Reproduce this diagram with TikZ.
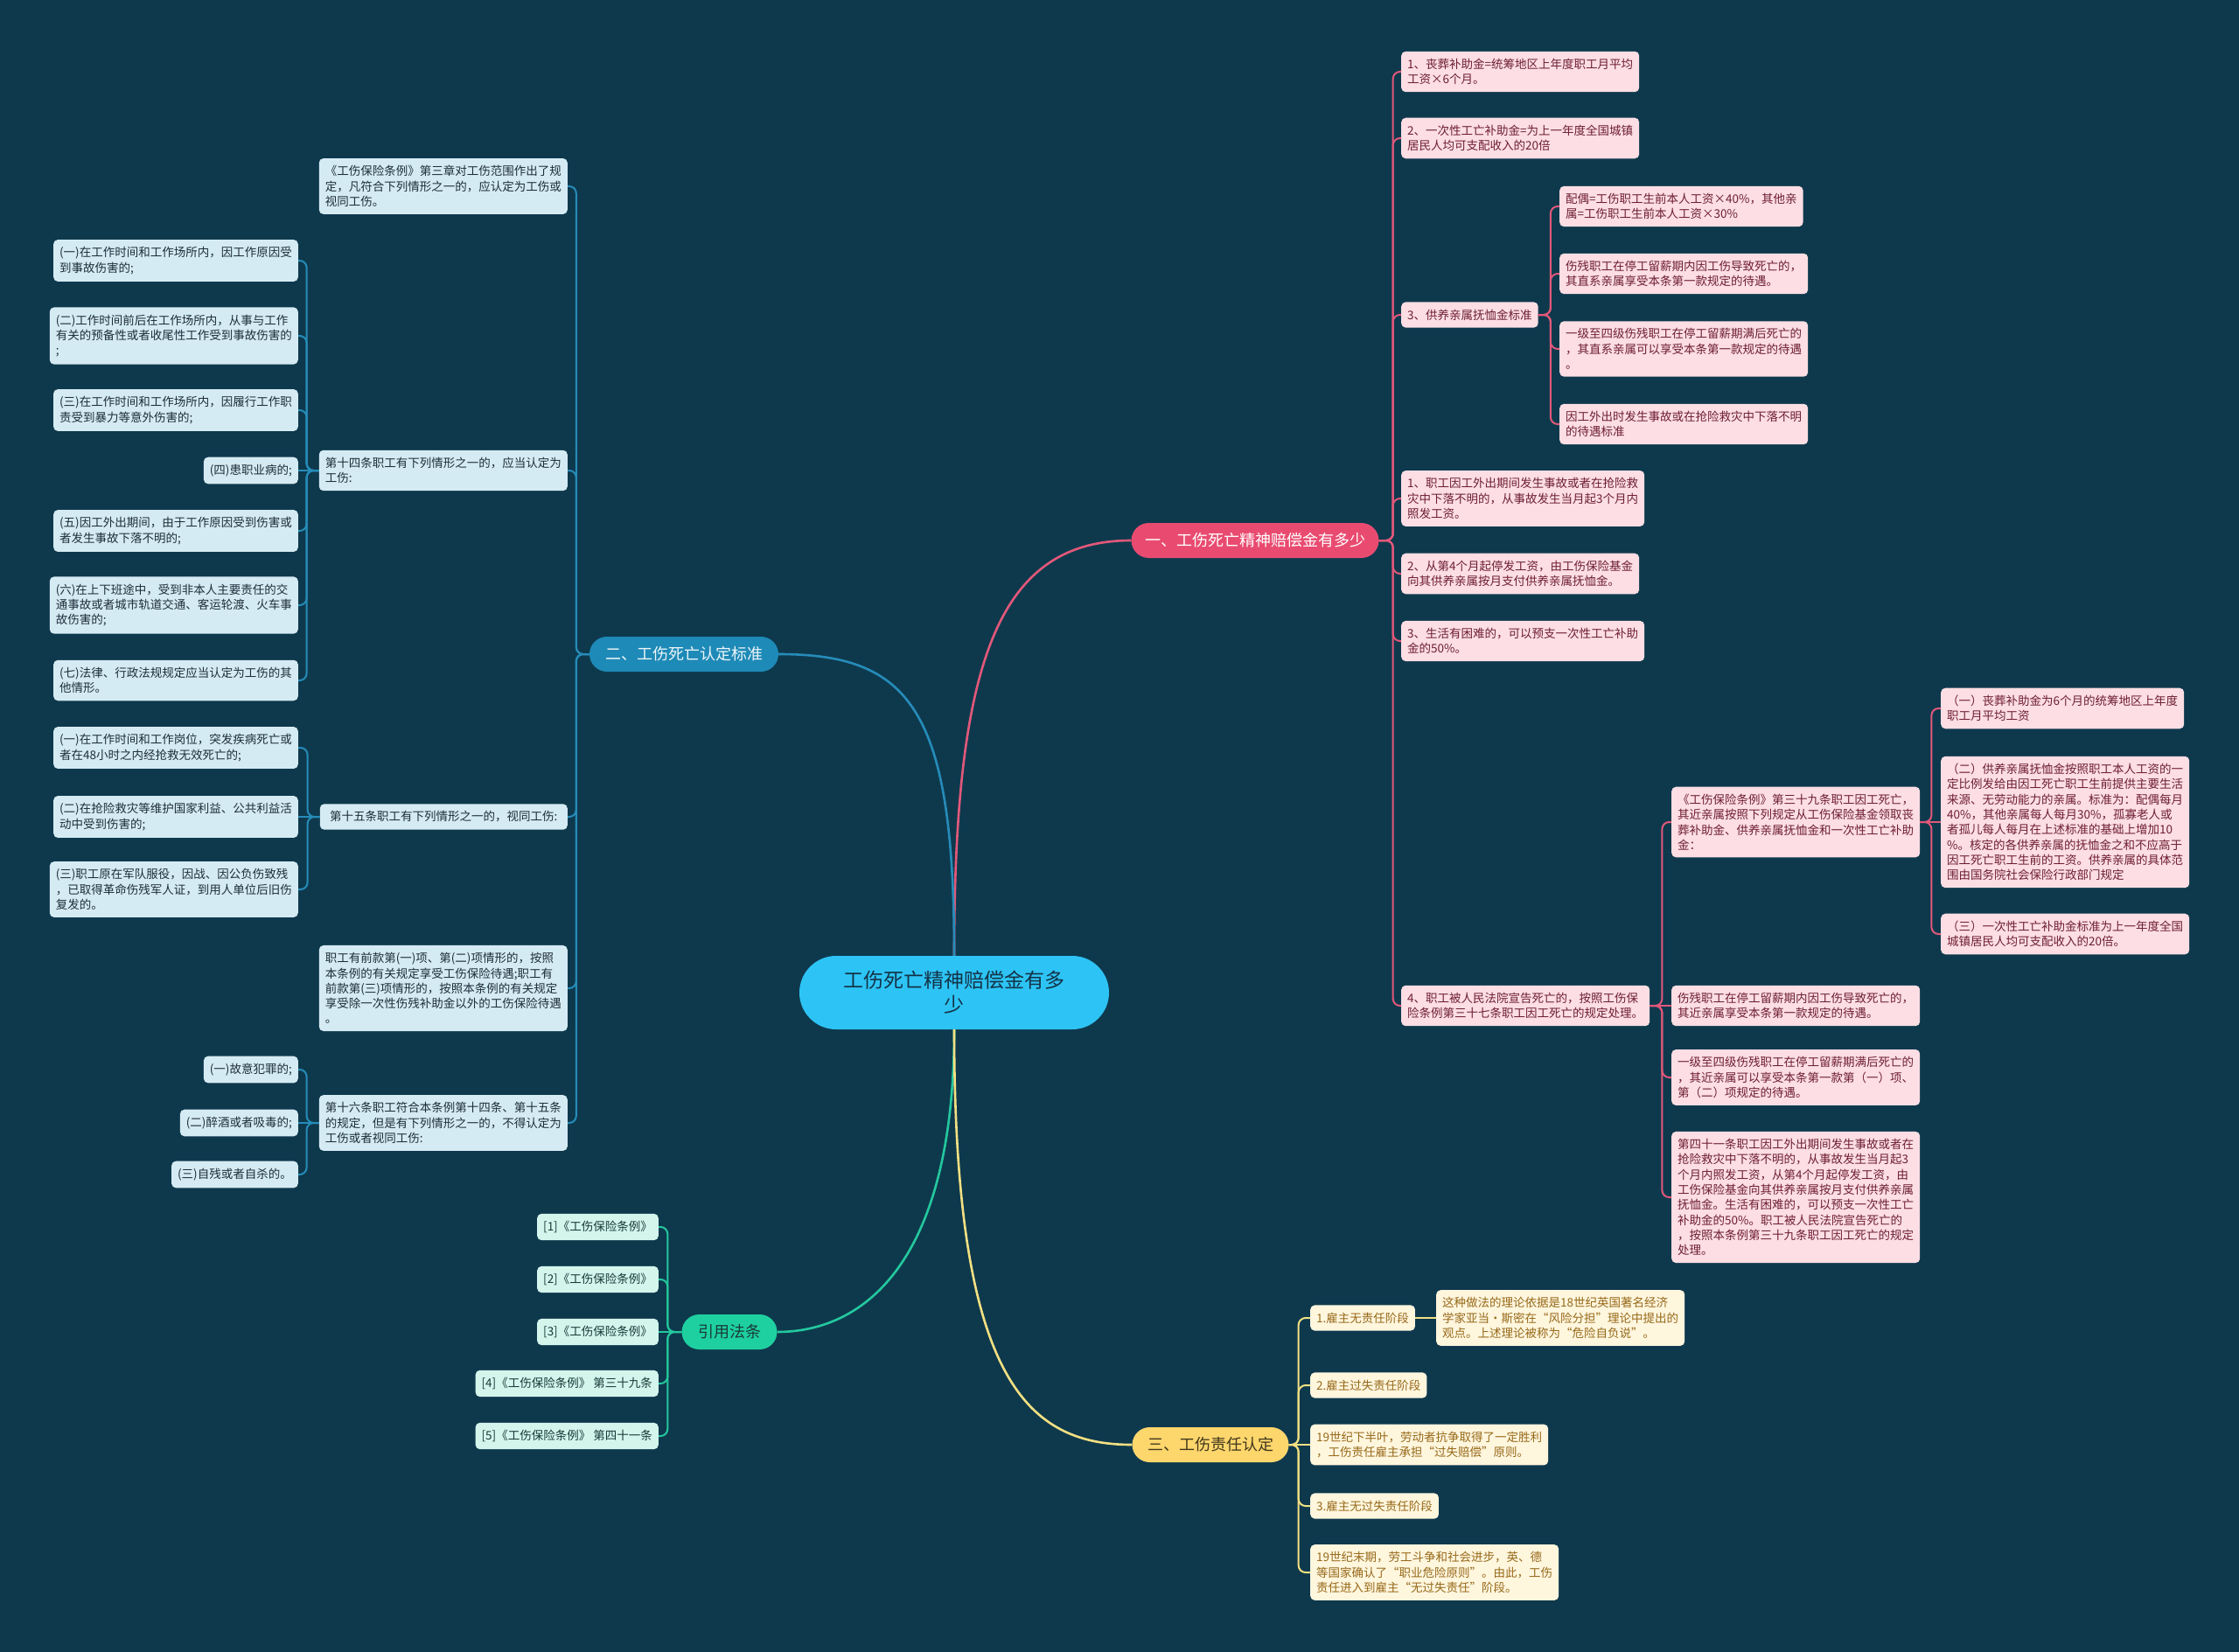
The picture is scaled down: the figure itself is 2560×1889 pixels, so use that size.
\documentclass[tikz,border=0pt]{standalone}
\usepackage{fontspec}
\setmainfont{Noto Sans CJK SC}
\definecolor{bgteal}{RGB}{14,57,77}
\definecolor{rootblue}{RGB}{45,196,245}
\definecolor{roottext}{RGB}{20,50,70}
\definecolor{pinkmain}{RGB}{233,75,112}
\definecolor{pinkline}{RGB}{226,88,122}
\definecolor{pinkfill}{RGB}{252,222,228}
\definecolor{pinktext}{RGB}{110,30,52}
\definecolor{bluemain}{RGB}{30,138,184}
\definecolor{blueline}{RGB}{38,140,185}
\definecolor{bluefill}{RGB}{213,235,243}
\definecolor{bluetext}{RGB}{28,46,58}
\definecolor{greenmain}{RGB}{30,208,160}
\definecolor{greenline}{RGB}{36,200,158}
\definecolor{greenfill}{RGB}{212,245,236}
\definecolor{greentext}{RGB}{24,58,56}
\definecolor{yellowmain}{RGB}{253,214,108}
\definecolor{yellowline}{RGB}{243,224,130}
\definecolor{yellowfill}{RGB}{255,246,222}
\definecolor{yellowtext}{RGB}{150,105,25}

\begin{document}
\begin{tikzpicture}[x=1pt,y=-1pt,
  leaf/.style={rounded corners=5pt,align=left,inner xsep=7pt,inner ysep=8.3pt,font=\fontsize{13.5}{17.3}\selectfont},
  pleaf/.style={leaf,fill=pinkfill,text=pinktext},
  bleaf/.style={leaf,fill=bluefill,text=bluetext},
  gleaf/.style={leaf,fill=greenfill,text=greentext},
  yleaf/.style={leaf,fill=yellowfill,text=yellowtext},
  branch/.style={rounded corners=20pt,minimum height=40pt,inner xsep=10pt,font=\fontsize{18}{22}\selectfont},
  plink/.style={draw=pinkline,line width=2pt,rounded corners=8pt},
  blink/.style={draw=blueline,line width=2pt,rounded corners=8pt},
  glink/.style={draw=greenline,line width=2pt,rounded corners=8pt},
  ylink/.style={draw=yellowline,line width=2pt,rounded corners=8pt},
  main/.style={line width=2.6pt}]
\fill[bgteal] (0,0) rectangle (2560,1889);
\useasboundingbox (0,0) rectangle (2560,1889);

\node[fill=rootblue,text=roottext,rounded corners=42pt,minimum width=354pt,minimum height=84pt,align=center,font=\fontsize{23}{28}\selectfont] (ctr) at (1091,1135) {工伤死亡精神赔偿金有多\\少};

\node[branch,fill=pinkmain,text=white,minimum width=283pt] (one) at (1435,618) {一、工伤死亡精神赔偿金有多少};
\node[branch,fill=bluemain,text=white!92!bluemain,minimum width=216pt] (two) at (782,748) {二、工伤死亡认定标准};
\node[branch,fill=greenmain,text=greentext,minimum width=109pt] (refs) at (834,1523) {引用法条};
\node[branch,fill=yellowmain,text=black!75!yellowmain,minimum width=179pt] (three) at (1384,1652) {三、工伤责任认定};

\draw[pinkline,main] (ctr.north) .. controls (1091,760) and (1140,618) .. (one.west);
\draw[blueline,main] (ctr.north) .. controls (1091,810) and (1040,748) .. (two.east);
\draw[greenline,main] (ctr.south) .. controls (1091,1440) and (990,1523) .. (refs.east);
\draw[yellowline,main] (ctr.south) .. controls (1091,1570) and (1170,1652) .. (three.west);

\node[pleaf,anchor=west] (r1) at (1602,82) {1、丧葬补助金=统筹地区上年度职工月平均\\工资×6个月。};
\node[pleaf,anchor=west] (r2) at (1602,158) {2、一次性工亡补助金=为上一年度全国城镇\\居民人均可支配收入的20倍};
\node[pleaf,anchor=west] (r3) at (1602,360) {3、供养亲属抚恤金标准};
\node[pleaf,anchor=west] (r4) at (1602,570) {1、职工因工外出期间发生事故或者在抢险救\\灾中下落不明的，从事故发生当月起3个月内\\照发工资。};
\node[pleaf,anchor=west] (r5) at (1602,656) {2、从第4个月起停发工资，由工伤保险基金\\向其供养亲属按月支付供养亲属抚恤金。};
\node[pleaf,anchor=west] (r6) at (1602,733) {3、生活有困难的，可以预支一次性工亡补助\\金的50\%。};
\node[pleaf,anchor=west] (r7) at (1602,1150) {4、职工被人民法院宣告死亡的，按照工伤保\\险条例第三十七条职工因工死亡的规定处理。};
\draw[plink] (one.east) -- ++(16,0) |- (r1.west);
\draw[plink] (one.east) -- ++(16,0) |- (r2.west);
\draw[plink] (one.east) -- ++(16,0) |- (r3.west);
\draw[plink] (one.east) -- ++(16,0) |- (r4.west);
\draw[plink] (one.east) -- ++(16,0) |- (r5.west);
\draw[plink] (one.east) -- ++(16,0) |- (r6.west);
\draw[plink] (one.east) -- ++(16,0) |- (r7.west);

\node[pleaf,anchor=west] (r31) at (1783,236) {配偶=工伤职工生前本人工资×40\%，其他亲\\属=工伤职工生前本人工资×30\%};
\node[pleaf,anchor=west] (r32) at (1783,313) {伤残职工在停工留薪期内因工伤导致死亡的，\\其直系亲属享受本条第一款规定的待遇。};
\node[pleaf,anchor=west] (r33) at (1783,399) {一级至四级伤残职工在停工留薪期满后死亡的\\，其直系亲属可以享受本条第一款规定的待遇\\。};
\node[pleaf,anchor=west] (r34) at (1783,485) {因工外出时发生事故或在抢险救灾中下落不明\\的待遇标准};
\draw[plink] (r3.east) -- ++(14,0) |- (r31.west);
\draw[plink] (r3.east) -- ++(14,0) |- (r32.west);
\draw[plink] (r3.east) -- ++(14,0) |- (r33.west);
\draw[plink] (r3.east) -- ++(14,0) |- (r34.west);

\node[pleaf,anchor=west] (r71) at (1911,940) {《工伤保险条例》第三十九条职工因工死亡，\\其近亲属按照下列规定从工伤保险基金领取丧\\葬补助金、供养亲属抚恤金和一次性工亡补助\\金：};
\node[pleaf,anchor=west] (r72) at (1911,1150) {伤残职工在停工留薪期内因工伤导致死亡的，\\其近亲属享受本条第一款规定的待遇。};
\node[pleaf,anchor=west] (r73) at (1911,1232) {一级至四级伤残职工在停工留薪期满后死亡的\\，其近亲属可以享受本条第一款第（一）项、\\第（二）项规定的待遇。};
\node[pleaf,anchor=west] (r74) at (1911,1369) {第四十一条职工因工外出期间发生事故或者在\\抢险救灾中下落不明的，从事故发生当月起3\\个月内照发工资，从第4个月起停发工资，由\\工伤保险基金向其供养亲属按月支付供养亲属\\抚恤金。生活有困难的，可以预支一次性工亡\\补助金的50\%。职工被人民法院宣告死亡的\\，按照本条例第三十九条职工因工死亡的规定\\处理。};
\draw[plink] (r7.east) -- ++(14,0) |- (r71.west);
\draw[plink] (r7.east) -- (r72.west);
\draw[plink] (r7.east) -- ++(14,0) |- (r73.west);
\draw[plink] (r7.east) -- ++(14,0) |- (r74.west);

\node[pleaf,anchor=west] (r711) at (2219,810) {（一）丧葬补助金为6个月的统筹地区上年度\\职工月平均工资};
\node[pleaf,anchor=west] (r712) at (2219,940) {（二）供养亲属抚恤金按照职工本人工资的一\\定比例发给由因工死亡职工生前提供主要生活\\来源、无劳动能力的亲属。标准为：配偶每月\\40\%，其他亲属每人每月30\%，孤寡老人或\\者孤儿每人每月在上述标准的基础上增加10\\\%。核定的各供养亲属的抚恤金之和不应高于\\因工死亡职工生前的工资。供养亲属的具体范\\围由国务院社会保险行政部门规定};
\node[pleaf,anchor=west] (r713) at (2219,1068) {（三）一次性工亡补助金标准为上一年度全国\\城镇居民人均可支配收入的20倍。};
\draw[plink] (r71.east) -- ++(13,0) |- (r711.west);
\draw[plink] (r71.east) -- (r712.west);
\draw[plink] (r71.east) -- ++(13,0) |- (r713.west);

\node[bleaf,anchor=east] (b1) at (649,213) {《工伤保险条例》第三章对工伤范围作出了规\\定，凡符合下列情形之一的，应认定为工伤或\\视同工伤。};
\node[bleaf,anchor=east] (b2) at (649,538) {第十四条职工有下列情形之一的，应当认定为\\工伤:};
\node[bleaf,anchor=east,minimum width=283pt] (b3) at (649,934) {第十五条职工有下列情形之一的，视同工伤:};
\node[bleaf,anchor=east] (b4) at (649,1130) {职工有前款第(一)项、第(二)项情形的，按照\\本条例的有关规定享受工伤保险待遇;职工有\\前款第(三)项情形的，按照本条例的有关规定\\享受除一次性伤残补助金以外的工伤保险待遇\\。};
\node[bleaf,anchor=east] (b5) at (649,1284) {第十六条职工符合本条例第十四条、第十五条\\的规定，但是有下列情形之一的，不得认定为\\工伤或者视同工伤:};
\draw[blink] (two.west) -- ++(-15,0) |- (b1.east);
\draw[blink] (two.west) -- ++(-15,0) |- (b2.east);
\draw[blink] (two.west) -- ++(-15,0) |- (b3.east);
\draw[blink] (two.west) -- ++(-15,0) |- (b4.east);
\draw[blink] (two.west) -- ++(-15,0) |- (b5.east);

\node[bleaf,anchor=east] (b21) at (341,298) {(一)在工作时间和工作场所内，因工作原因受\\到事故伤害的;};
\node[bleaf,anchor=east] (b22) at (341,384) {(二)工作时间前后在工作场所内，从事与工作\\有关的预备性或者收尾性工作受到事故伤害的\\;};
\node[bleaf,anchor=east] (b23) at (341,469) {(三)在工作时间和工作场所内，因履行工作职\\责受到暴力等意外伤害的;};
\node[bleaf,anchor=east] (b24) at (341,538) {(四)患职业病的;};
\node[bleaf,anchor=east] (b25) at (341,607) {(五)因工外出期间，由于工作原因受到伤害或\\者发生事故下落不明的;};
\node[bleaf,anchor=east] (b26) at (341,692) {(六)在上下班途中，受到非本人主要责任的交\\通事故或者城市轨道交通、客运轮渡、火车事\\故伤害的;};
\node[bleaf,anchor=east] (b27) at (341,778) {(七)法律、行政法规规定应当认定为工伤的其\\他情形。};
\draw[blink] (b2.west) -- ++(-14,0) |- (b21.east);
\draw[blink] (b2.west) -- ++(-14,0) |- (b22.east);
\draw[blink] (b2.west) -- ++(-14,0) |- (b23.east);
\draw[blink] (b2.west) -- (b24.east);
\draw[blink] (b2.west) -- ++(-14,0) |- (b25.east);
\draw[blink] (b2.west) -- ++(-14,0) |- (b26.east);
\draw[blink] (b2.west) -- ++(-14,0) |- (b27.east);

\node[bleaf,anchor=east] (b31) at (341,855) {(一)在工作时间和工作岗位，突发疾病死亡或\\者在48小时之内经抢救无效死亡的;};
\node[bleaf,anchor=east] (b32) at (341,934) {(二)在抢险救灾等维护国家利益、公共利益活\\动中受到伤害的;};
\node[bleaf,anchor=east] (b33) at (341,1017) {(三)职工原在军队服役，因战、因公负伤致残\\，已取得革命伤残军人证，到用人单位后旧伤\\复发的。};
\draw[blink] (b3.west) -- ++(-14,0) |- (b31.east);
\draw[blink] (b3.west) -- (b32.east);
\draw[blink] (b3.west) -- ++(-14,0) |- (b33.east);

\node[bleaf,anchor=east] (b51) at (341,1223) {(一)故意犯罪的;};
\node[bleaf,anchor=east] (b52) at (341,1284) {(二)醉酒或者吸毒的;};
\node[bleaf,anchor=east] (b53) at (341,1343) {(三)自残或者自杀的。};
\draw[blink] (b5.west) -- ++(-14,0) |- (b51.east);
\draw[blink] (b5.west) -- (b52.east);
\draw[blink] (b5.west) -- ++(-14,0) |- (b53.east);

\node[gleaf,anchor=east] (g1) at (753,1403) {[1]《工伤保险条例》};
\node[gleaf,anchor=east] (g2) at (753,1463) {[2]《工伤保险条例》};
\node[gleaf,anchor=east] (g3) at (753,1523) {[3]《工伤保险条例》};
\node[gleaf,anchor=east] (g4) at (753,1582) {[4]《工伤保险条例》 第三十九条};
\node[gleaf,anchor=east] (g5) at (753,1642) {[5]《工伤保险条例》 第四十一条};
\draw[glink] (refs.west) -- ++(-16,0) |- (g1.east);
\draw[glink] (refs.west) -- ++(-16,0) |- (g2.east);
\draw[glink] (refs.west) -- (g3.east);
\draw[glink] (refs.west) -- ++(-16,0) |- (g4.east);
\draw[glink] (refs.west) -- ++(-16,0) |- (g5.east);

\node[yleaf,anchor=west] (y1) at (1498,1507) {1.雇主无责任阶段};
\node[yleaf,anchor=west] (y1a) at (1642,1507) {这种做法的理论依据是18世纪英国著名经济\\学家亚当·斯密在“风险分担”理论中提出的\\观点。上述理论被称为“危险自负说”。};
\node[yleaf,anchor=west] (y2) at (1498,1584) {2.雇主过失责任阶段};
\node[yleaf,anchor=west] (y3) at (1498,1652) {19世纪下半叶，劳动者抗争取得了一定胜利\\，工伤责任雇主承担“过失赔偿”原则。};
\node[yleaf,anchor=west] (y4) at (1498,1722) {3.雇主无过失责任阶段};
\node[yleaf,anchor=west] (y5) at (1498,1798) {19世纪末期，劳工斗争和社会进步，英、德\\等国家确认了“职业危险原则”。由此，工伤\\责任进入到雇主“无过失责任”阶段。};
\draw[ylink] (three.east) -- ++(11,0) |- (y1.west);
\draw[ylink] (three.east) -- ++(11,0) |- (y2.west);
\draw[ylink] (three.east) -- (y3.west);
\draw[ylink] (three.east) -- ++(11,0) |- (y4.west);
\draw[ylink] (three.east) -- ++(11,0) |- (y5.west);
\draw[ylink] (y1.east) -- (y1a.west);
\end{tikzpicture}
\end{document}
